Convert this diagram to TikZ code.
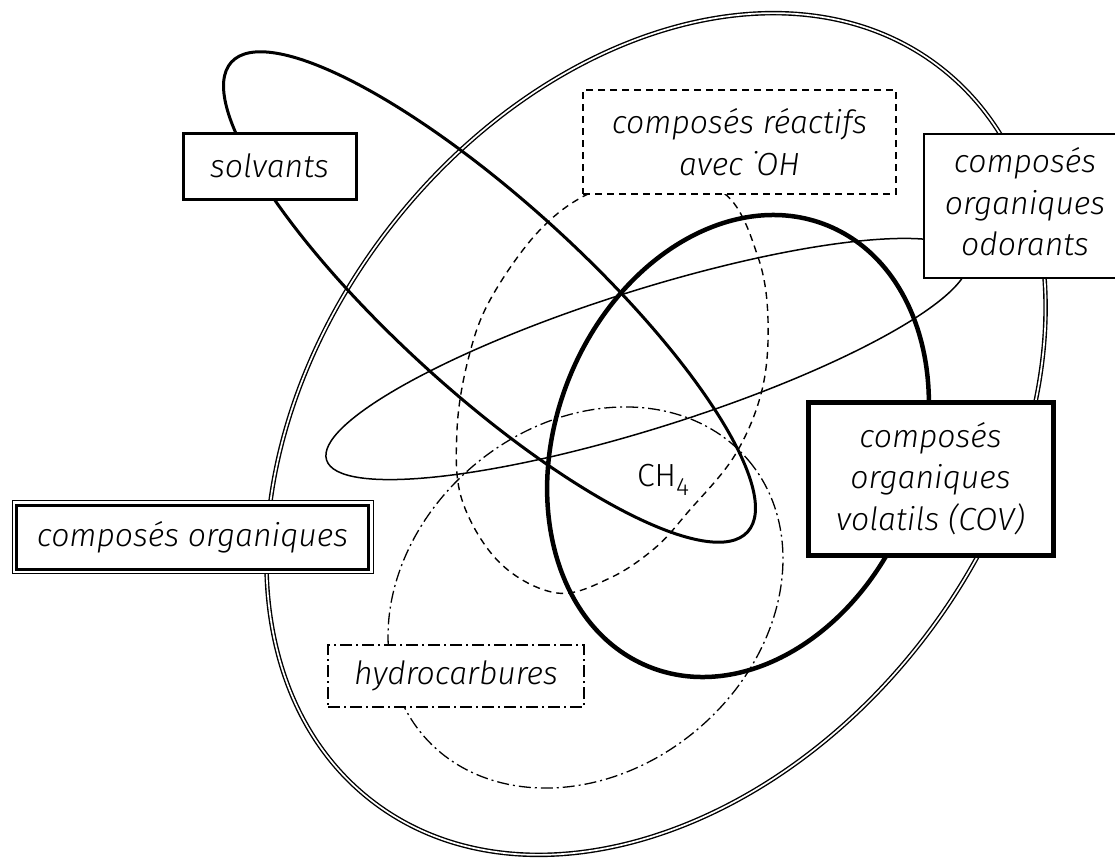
\documentclass[tikz,border=0pt]{standalone}
\usepackage{fontspec}
\setmainfont{Fira Sans Light}[ItalicFont={Fira Sans Light Italic}]
\begin{document}
\begin{tikzpicture}[x=1pt,y=-1pt,
  txt/.style={font=\fontsize{32}{41.5}\selectfont\itshape, align=center, inner sep=0pt},
  box/.style={txt, draw, fill=white},
  thinline/.style={line width=1.5pt},
  dashline/.style={line width=1.4pt, dash pattern=on 7pt off 5pt},
  dashdotline/.style={line width=1.3pt, dash pattern=on 12pt off 4pt on 2pt off 4pt},
  outerline/.style={line width=1.4pt, double, double distance=1.7pt},
]
\useasboundingbox (0,0) rectangle (1115,859);

% outer: composes organiques
\draw[outerline, rotate around={52.2:(656,434)}] (656,434) ellipse [x radius=464, y radius=337];

% reactifs avec OH (dashed)
\draw[dashline] plot[smooth cycle, tension=0.6] coordinates {
 (655,176) (725,194) (758,257) (768,320) (762,390) (735,455) (688,512) (655,548)
 (610,578) (557,593) (500,563) (462,500) (457,430) (468,360) (490,300) (538,232) (590,193)};

% hydrocarbures (dash dot)
\draw[dashdotline, rotate around={40:(585.5,597.5)}] (585.5,597.5) ellipse [x radius=213, y radius=173];

% odorants
\draw[thinline, rotate around={17.5:(647,359)}] (647,359) ellipse [x radius=336, y radius=69];

% solvants
\draw[line width=3pt, rotate around={-42.3:(489.5,297)}] (489.5,297) ellipse [x radius=349, y radius=95];

% COV
\draw[line width=4.5pt, rotate around={68:(738,446)}] (738,446) ellipse [x radius=238, y radius=182];

% labels
\node[box, line width=3pt, minimum width=173pt, minimum height=66pt] (solvbox) at (269.5,166) {solvants};
\node[box, dashline, minimum width=313pt, minimum height=104pt] (reacbox) at (739.5,142) {composés réactifs\\avec ˙OH};
\node[box, thinline, minimum width=262pt, minimum height=144pt] (odorbox) at (1055,206)
  {\begin{tabular}{@{}c@{}}composés\\organiques\\odorants\end{tabular}\hspace*{60pt}};
\node[box, line width=5pt, minimum width=245pt, minimum height=153pt] (covbox) at (930.5,478.5) {composés\\organiques\\volatils (COV)};
\node[box, line width=1pt, minimum width=361pt, minimum height=73pt] (orgbox) at (192.5,537.3) {composés organiques};
\draw[line width=3pt] ([xshift=5pt,yshift=5pt]orgbox.south west) rectangle ([xshift=-5pt,yshift=-5pt]orgbox.north east);
\node[box, dashdotline, minimum width=256pt, minimum height=62pt] (hydrobox) at (456,676) {hydrocarbures};
\node[txt, font=\fontsize{32}{41.5}\selectfont\upshape] (ch4) at (663,480) {CH\raisebox{-0.55ex}{\fontsize{25}{25}\selectfont 4}};
\end{tikzpicture}
\end{document}
